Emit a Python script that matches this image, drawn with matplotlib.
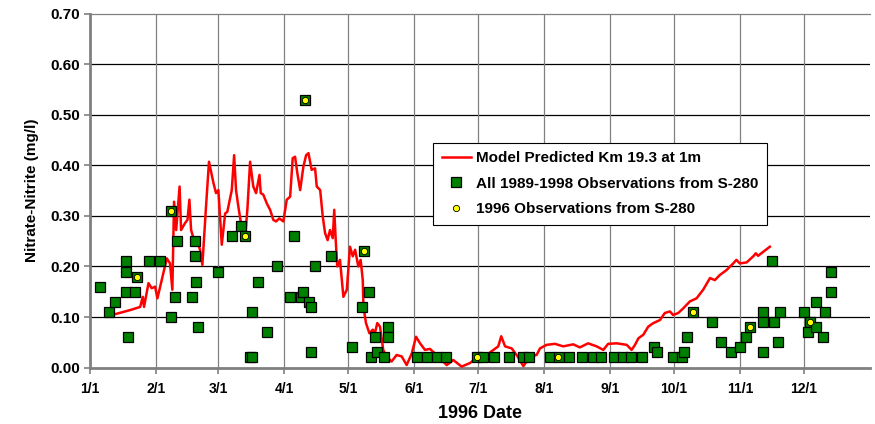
import matplotlib
matplotlib.use("Agg")
import matplotlib.pyplot as plt

# day of year (0 = Jan 1, 1996) and value in mg/l
model_day = [12, 19, 23.5, 24.7, 25.3, 27.4, 28.9, 30.5, 31.6, 33.6, 36, 37.5, 38.6, 39.4,
             40.4, 42, 42.7, 44.6, 45.7, 46.6, 47.4, 48.8, 50, 51.6, 52.7, 54.4, 55.8, 57.9,
             59.1, 60.2, 61.8, 63.4, 64.4, 66.5, 67.6, 68.5, 69.6, 71.7, 72.7, 73.9, 75.1,
             76.6, 77.9, 79.5, 80.1, 81.3, 82.9, 84.5, 86, 87.3, 88.8, 90.7, 92.3, 93.9, 95.1,
             96.2, 97.3, 98.6, 100.1, 101.4, 102.5, 104, 105.6, 106.4, 108, 109.2, 110.3,
             111.5, 112.6, 113.9, 114.6, 115.3, 116, 117.3, 118.9, 120.5, 122, 123.3, 124.4,
             125.9, 127, 128, 128.3, 129.5, 131.1, 132.7, 133.7, 134.8, 136.1, 137.6, 139.2,
             141.5, 143.9, 146.3, 148.6, 151, 153, 154.9, 157.2, 159.5, 162.7, 167.4, 170.5,
             174.4, 178.3, 181.4, 186.1, 189.3, 191.6, 193, 194.8, 197.9, 200.2, 203.4, 206.5,
             209.6, 211.2, 214.3, 218.2, 222.1, 226.8, 229.9, 233.8, 237.8, 240.9, 243.2,
             247.2, 251.9, 254.2, 255.8, 257.4, 259.7, 262, 264.4, 267.5, 269.8, 272.2, 273.7,
             276.1, 278.4, 281.6, 284.7, 287.8, 291, 293.3, 295.6, 298.8, 301.9, 303.4, 305,
             308.2, 311.3, 312.5, 313.6, 316, 319.1]
model_val = [0.106, 0.114, 0.12, 0.14, 0.12, 0.167, 0.157, 0.16, 0.137, 0.173, 0.216, 0.206,
             0.154, 0.328, 0.272, 0.358, 0.272, 0.286, 0.292, 0.332, 0.272, 0.252, 0.252,
             0.233, 0.203, 0.318, 0.407, 0.365, 0.345, 0.351, 0.243, 0.305, 0.308, 0.351,
             0.42, 0.351, 0.318, 0.262, 0.252, 0.318, 0.407, 0.358, 0.345, 0.381, 0.345,
             0.342, 0.325, 0.312, 0.292, 0.289, 0.295, 0.289, 0.332, 0.338, 0.414, 0.417,
             0.384, 0.351, 0.397, 0.42, 0.424, 0.391, 0.394, 0.358, 0.351, 0.299, 0.266,
             0.252, 0.272, 0.256, 0.312, 0.252, 0.2, 0.213, 0.14, 0.154, 0.239, 0.22, 0.233,
             0.2, 0.213, 0.173, 0.121, 0.088, 0.068, 0.075, 0.068, 0.088, 0.081, 0.035, 0.022,
             0.012, 0.025, 0.022, 0.005, 0.028, 0.061, 0.048, 0.035, 0.037, 0.025, 0.005,
             0.015, 0.002, 0.009, 0.019, 0.025, 0.035, 0.042, 0.062, 0.042, 0.038, 0.025,
             0.003, 0.022, 0.025, 0.038, 0.045, 0.047, 0.042, 0.046, 0.04, 0.048, 0.042,
             0.035, 0.047, 0.048, 0.045, 0.035, 0.045, 0.058, 0.065, 0.081, 0.088, 0.094,
             0.108, 0.111, 0.104, 0.108, 0.117, 0.131, 0.137, 0.154, 0.177, 0.173, 0.183,
             0.193, 0.206, 0.213, 0.206, 0.208, 0.22, 0.226, 0.221, 0.229, 0.239]

all_day = [4.7, 8.9, 11.9, 16.9, 16.9, 16.9, 21.1, 17.8, 21.9, 27.8, 32.8, 37.9, 37.9, 40.8,
           39.9, 49, 49, 49.9, 47.9, 50.8, 59.9, 66.8, 70.9, 72.9, 79, 75.9, 82.9, 75, 76,
           87.7, 100.9, 95.9, 113, 105.7, 128.5, 93.9, 98.9, 99.8, 102.9, 103.9, 103.9,
           122.8, 130.8, 127.8, 133.9, 131.8, 134.6, 140, 140, 137.8,
           153.6, 158, 163, 167, 181.4, 184.6, 189.7, 196.8, 203, 206, 216, 220, 225, 231,
           236, 240, 246, 250, 254, 259,
           264.8, 266, 273.7, 278, 278.7, 280, 282.8, 291.9, 296, 301, 305, 308, 310, 316,
           316, 321, 323.8, 316, 323, 319.9, 335.2, 337.9, 337.1, 340.7, 340.7, 345, 344,
           348, 348]
all_val = [0.16, 0.11, 0.13, 0.21, 0.19, 0.15, 0.15, 0.06, 0.18, 0.21, 0.21, 0.31, 0.10, 0.25,
           0.14, 0.25, 0.22, 0.17, 0.14, 0.08, 0.19, 0.26, 0.28, 0.26, 0.17, 0.11, 0.07, 0.02,
           0.02, 0.20, 0.53, 0.26, 0.22, 0.20, 0.23, 0.14, 0.14, 0.15, 0.13, 0.12, 0.03,
           0.04, 0.15, 0.12, 0.06, 0.02, 0.03, 0.08, 0.06, 0.02,
           0.02, 0.02, 0.02, 0.02, 0.02, 0.02, 0.02, 0.02, 0.02, 0.02, 0.02, 0.02, 0.02, 0.02,
           0.02, 0.02, 0.02, 0.02, 0.02, 0.02,
           0.04, 0.03, 0.02, 0.02, 0.03, 0.06, 0.11, 0.09, 0.05, 0.03, 0.04, 0.06, 0.08, 0.11,
           0.09, 0.09, 0.11, 0.03, 0.05, 0.21, 0.11, 0.09, 0.07, 0.08, 0.13, 0.11, 0.06,
           0.15, 0.19]

obs96_day = [21.9, 37.9, 72.9, 100.9, 128.5, 181.4, 219.8, 282.8, 310, 337.9]
obs96_val = [0.18, 0.31, 0.26, 0.53, 0.23, 0.02, 0.02, 0.11, 0.08, 0.09]

month_start = [0, 31, 60, 91, 121, 152, 182, 213, 244, 274, 305, 335]
month_labels = ["1/1", "2/1", "3/1", "4/1", "5/1", "6/1", "7/1", "8/1", "9/1", "10/1", "11/1", "12/1"]

plt.rcParams['font.family'] = ['Liberation Sans', 'DejaVu Sans']
plt.rcParams['font.weight'] = 'bold'

fig = plt.figure(figsize=(8.75, 4.24), dpi=100)
ax = fig.add_axes([0.103, 0.133, 0.891, 0.835])

ax.plot(model_day, model_val, color='red', lw=1.8, zorder=3,
        label="Model Predicted Km 19.3 at 1m")
ax.plot(all_day, all_val, ls='none', marker='s', ms=7.5, mfc='#008000', mec='black',
        mew=0.9, zorder=4, label="All 1989-1998 Observations from S-280")
ax.plot(obs96_day, obs96_val, ls='none', marker='o', ms=4.5, mfc='yellow', mec='black',
        mew=0.6, zorder=5, label="1996 Observations from S-280")

ax.set_xlim(0, 366)
ax.set_ylim(0, 0.70)
ax.set_xticks(month_start)
ax.set_xticklabels(month_labels)
ax.set_yticks([i / 10 for i in range(8)])
ax.set_yticklabels(["%.2f" % (i / 10) for i in range(8)])
ax.tick_params(color='#808080', length=4, width=1.2)
ax.tick_params(axis='x', labelsize=10, pad=6.5)
ax.tick_params(axis='y', labelsize=11)

for y in [i / 10 for i in range(1, 7)]:
    ax.axhline(y, color='black', lw=0.9, zorder=1)
for x in month_start[1:]:
    ax.axvline(x, color='#808080', lw=0.9, zorder=1)

for s in ['left', 'bottom']:
    ax.spines[s].set_color('#808080')
    ax.spines[s].set_linewidth(2)
ax.spines['top'].set_color('#808080')
ax.spines['top'].set_linewidth(0.9)
ax.spines['right'].set_visible(False)

ax.set_xlabel("1996 Date", fontsize=13, fontweight='bold', labelpad=6)
ax.set_ylabel("Nitrate-Nitrite (mg/l)", fontsize=11, fontweight='bold', labelpad=8)

leg = ax.legend(loc='upper left', bbox_to_anchor=(0.44, 0.635), fontsize=11,
                frameon=True, fancybox=False, edgecolor='black', framealpha=1,
                handlelength=1.9, handletextpad=0.35, borderpad=0.55, labelspacing=0.75,
                borderaxespad=0)
leg.get_frame().set_linewidth(0.8)

fig.savefig("out.png", dpi=100)
